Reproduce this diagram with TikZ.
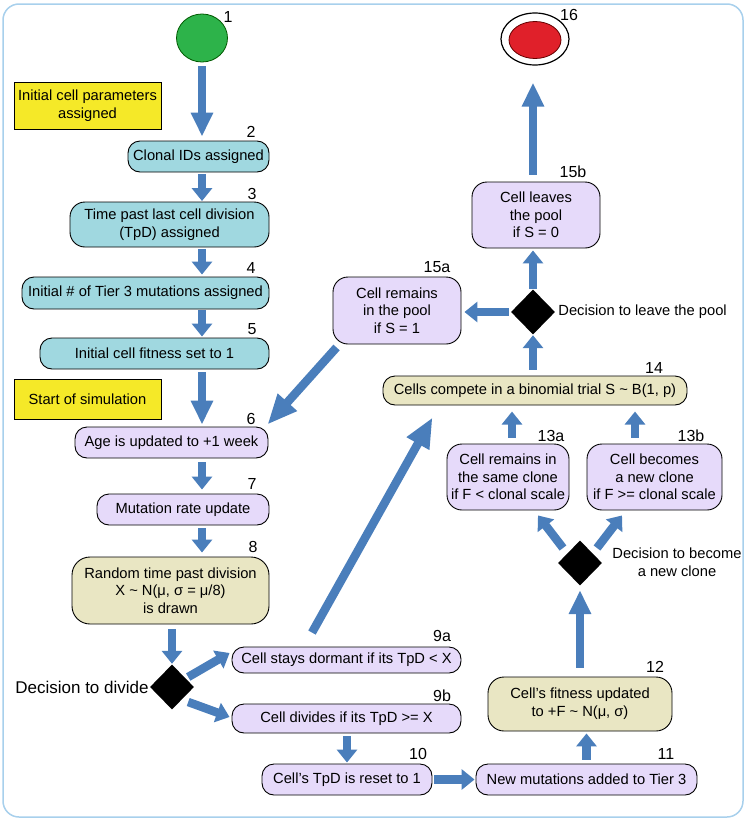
\documentclass[tikz,border=0pt]{standalone}
\usepackage{fontspec}
\setmainfont{Liberation Sans}
\usetikzlibrary{shapes.geometric,arrows.meta,calc}
\definecolor{cyanbox}{HTML}{A0D8E0}
\definecolor{purplebox}{HTML}{E6DAFA}
\definecolor{tanbox}{HTML}{E9E6C3}
\definecolor{yellowbox}{HTML}{F5E928}
\definecolor{startgreen}{HTML}{2DB34A}
\definecolor{endred}{HTML}{E0202A}
\definecolor{framecol}{HTML}{A8D0EC}
\definecolor{arrowblue}{HTML}{4A7EBB}
\begin{document}
\begin{tikzpicture}[x=1pt,y=-1pt,
  box/.style={draw=black, line width=0.9pt, rounded corners=12pt, align=center, inner sep=0pt, font=\fontsize{14.7}{17.7}\selectfont},
  cbox/.style={box, fill=cyanbox},
  pbox/.style={box, fill=purplebox},
  tbox/.style={box, fill=tanbox},
  ybox/.style={draw=black, line width=0.9pt, fill=yellowbox, align=center, inner sep=0pt, font=\fontsize{14.7}{17.7}\selectfont},
  dec/.style={diamond, fill=black, inner sep=0pt, minimum width=44pt, minimum height=45pt},
  num/.style={font=\fontsize{16}{16}\selectfont, inner sep=0pt},
  dtext/.style={font=\fontsize{14.7}{17.7}\selectfont, align=center, inner sep=0pt},
  barrow/.style={draw=arrowblue, line width=8.5pt, -{Triangle[length=13pt,width=20pt]}},
  barrowL/.style={draw=arrowblue, line width=8.5pt, -{Triangle[length=24pt,width=21pt]}},
  barrowD/.style={draw=arrowblue, line width=8.5pt, -{Triangle[length=30pt,width=24pt]}},
]
\useasboundingbox (0,0) rectangle (750,822);
\draw[framecol, line width=1.5pt, rounded corners=16pt] (3,4) rectangle (743,817);

% start / end
\node[ellipse, draw=green!35!black, line width=0.8pt, fill=startgreen, minimum width=51pt, minimum height=48pt, inner sep=0pt] (n1) at (202,38) {};
\node[ellipse, draw=black, line width=1.2pt, fill=white, minimum width=68pt, minimum height=52pt, inner sep=0pt] (n16) at (535,39) {};
\node[ellipse, draw=red!40!black, line width=0.8pt, fill=endred, minimum width=52pt, minimum height=37pt, inner sep=0pt] (n16i) at (535,40) {};

% yellow notes
\node[ybox, minimum width=147pt, minimum height=47pt] (y1) at (87.5,105.5) {Initial cell parameters\\assigned};
\node[ybox, minimum width=147pt, minimum height=40pt] (y2) at (87.5,399) {Start of simulation};

% left column
\node[cbox, minimum width=141pt, minimum height=31pt] (n2) at (198.5,156.5) {Clonal IDs assigned};
\node[cbox, minimum width=199pt, minimum height=45pt, rounded corners=15pt] (n3) at (169.5,224.5) {Time past last cell division\\(TpD) assigned};
\node[cbox, minimum width=247pt, minimum height=32pt] (n4) at (145.5,293) {Initial \# of Tier 3 mutations assigned};
\node[cbox, minimum width=229pt, minimum height=31pt] (n5) at (154.5,353.5) {Initial cell fitness set to 1};
\node[pbox, minimum width=193pt, minimum height=31pt] (n6) at (171.5,442.5) {Age is updated to +1 week};
\node[pbox, minimum width=172pt, minimum height=31pt] (n7) at (183,509.5) {Mutation rate update};
\node[tbox, minimum width=197pt, minimum height=67pt, rounded corners=18pt] (n8) at (170.5,590.5) {Random time past division\\X \textasciitilde{} N(μ, σ = μ/8)\\is drawn};
\node[dec] (d1) at (172,687) {};
\node[dtext, font=\fontsize{17}{20}\selectfont, anchor=east] (t1) at ($(d1.west)+(-1,0)$) {Decision to divide};

% bottom row
\node[pbox, minimum width=229pt, minimum height=26pt] (n9a) at (346.5,660) {Cell stays dormant if its TpD < X};
\node[pbox, minimum width=229pt, minimum height=29pt] (n9b) at (346.5,718.5) {Cell divides if its TpD >= X};
\node[pbox, minimum width=170pt, minimum height=31pt] (n10) at (347,779.5) {Cell’s TpD is reset to 1};
\node[pbox, minimum width=221pt, minimum height=31pt] (n11) at (586.5,779.5) {New mutations added to Tier 3};
\node[tbox, minimum width=184pt, minimum height=54pt, rounded corners=16pt] (n12) at (580,704) {Cell’s fitness updated\\to +F \textasciitilde{} N(μ, σ)};
\node[dec] (d2) at (580,563) {};
\node[dtext] (t2) at (677,562) {Decision to become\\a new clone};

% right column
\node[pbox, minimum width=122pt, minimum height=66pt, rounded corners=15pt] (n13a) at (508,477) {Cell remains in\\the same clone\\if F < clonal scale};
\node[pbox, minimum width=135pt, minimum height=66pt, rounded corners=15pt] (n13b) at (654.5,477) {Cell becomes\\a new clone\\if F >= clonal scale};
\node[tbox, minimum width=304pt, minimum height=29pt] (n14) at (535,390.5) {Cells compete in a binomial trial S \textasciitilde{} B(1, p)};
\node[dec] (d3) at (533,312) {};
\node[dtext, anchor=west] (t3) at ($(d3.east)+(3,0)$) {Decision to leave the pool};
\node[pbox, minimum width=128pt, minimum height=67pt, rounded corners=15pt] (n15a) at (397,310.5) {Cell remains\\in the pool\\if S = 1};
\node[pbox, minimum width=128pt, minimum height=66pt, rounded corners=15pt] (n15b) at (536,215) {Cell leaves\\the pool\\if S = 0};

% number labels
\node[num] (l1) at (228,17) {1};
\node[num] (l2) at (251,132) {2};
\node[num] (l3) at (252,194) {3};
\node[num] (l4) at (251,268) {4};
\node[num] (l5) at (252,329) {5};
\node[num] (l6) at (251,419) {6};
\node[num] (l7) at (252,484) {7};
\node[num] (l8) at (253,547) {8};
\node[num] (l9a) at (442,636) {9a};
\node[num] (l9b) at (442,696) {9b};
\node[num] (l10) at (418,754) {10};
\node[num] (l11) at (666,754) {11};
\node[num] (l12) at (655,667) {12};
\node[num] (l13a) at (551,436) {13a};
\node[num] (l13b) at (691,436) {13b};
\node[num] (l14) at (654,368) {14};
\node[num] (l15a) at (437,267) {15a};
\node[num] (l15b) at (573,172) {15b};
\node[num] (l16) at (569,15) {16};

% connectors
\draw[barrowL, shorten <=4pt, shorten >=4pt] (n1.south) -- (n1.south |- n2.north);
\draw[barrow, shorten <=2pt, shorten >=0.5pt] (n1 |- n2.south) -- (n1 |- n3.north);
\draw[barrow, shorten <=2pt, shorten >=2pt] (n1 |- n3.south) -- (n1 |- n4.north);
\draw[barrow, shorten <=1pt, shorten >=1pt] (n1 |- n4.south) -- (n1 |- n5.north);
\draw[barrowL, shorten <=3pt, shorten >=2pt] (n1 |- n5.south) -- (n1 |- n6.north);
\draw[barrow, shorten <=4pt, shorten >=4pt] (n1 |- n6.south) -- (n1 |- n7.north);
\draw[barrow, shorten <=3pt, shorten >=4pt] (n1 |- n7.south) -- (n1 |- n8.north);
\draw[barrow, shorten <=5pt, shorten >=0.5pt] (d1 |- n8.south) -- (d1.north);
\draw[barrow] ($(d1.east)+(-6,-10)$) -- ($(n9a.west)+(-2,-7)$);
\draw[barrow] ($(d1.east)+(-6,15)$) -- ($(n9b.west)+(-2,-1.5)$);
\draw[barrow, shorten <=3pt, shorten >=1pt] (n10 |- n9b.south) -- (n10.north);
\draw[barrow, shorten <=2pt, shorten >=1pt] (n10.east) -- (n11.west);
\draw[barrow, shorten <=4pt, shorten >=2pt] (n11.north) -- (n11.north |- n12.south);
\draw[barrowL, shorten <=9pt, shorten >=4.5pt] (d2 |- n12.north) -- (d2.south);
\draw[barrow] ($(d2.center)+(-17,-15)$) -- ($(n13a.south)+(30,5)$);
\draw[barrow] ($(d2.center)+(17,-15)$) -- ($(n13b.south)+(-32.5,5)$);
\draw[barrow, shorten <=6pt, shorten >=7pt] ($(n13a.north)+(4,0)$) -- ($(n13a.north)+(4,-39)$);
\draw[barrow, shorten <=6pt, shorten >=7pt] ($(n13b.north)+(-19.5,0)$) -- ($(n13b.north)+(-19.5,-39)$);
\draw[barrow, shorten <=6pt, shorten >=0.5pt] (d3 |- n14.north) -- (d3.south);
\draw[barrow, shorten <=2pt, shorten >=3pt] (d3.west) -- (d3.west -| n15a.east);
\draw[barrow, shorten <=0.5pt, shorten >=2pt] (d3.north) -- (d3.north |- n15b.south);
\draw[barrowL, shorten <=7pt, shorten >=17pt] (d3 |- n15b.north) -- (d3 |- n16.south);
\draw[barrowD] ($(n15a.south west)+(4,3)$) -- ($(n6.north east)+(-1,-2)$);
\draw[barrowD] ($(n9a.north)+(-34.5,-14)$) -- ($(n14.south west)+(50,12)$);
\end{tikzpicture}
\end{document}
